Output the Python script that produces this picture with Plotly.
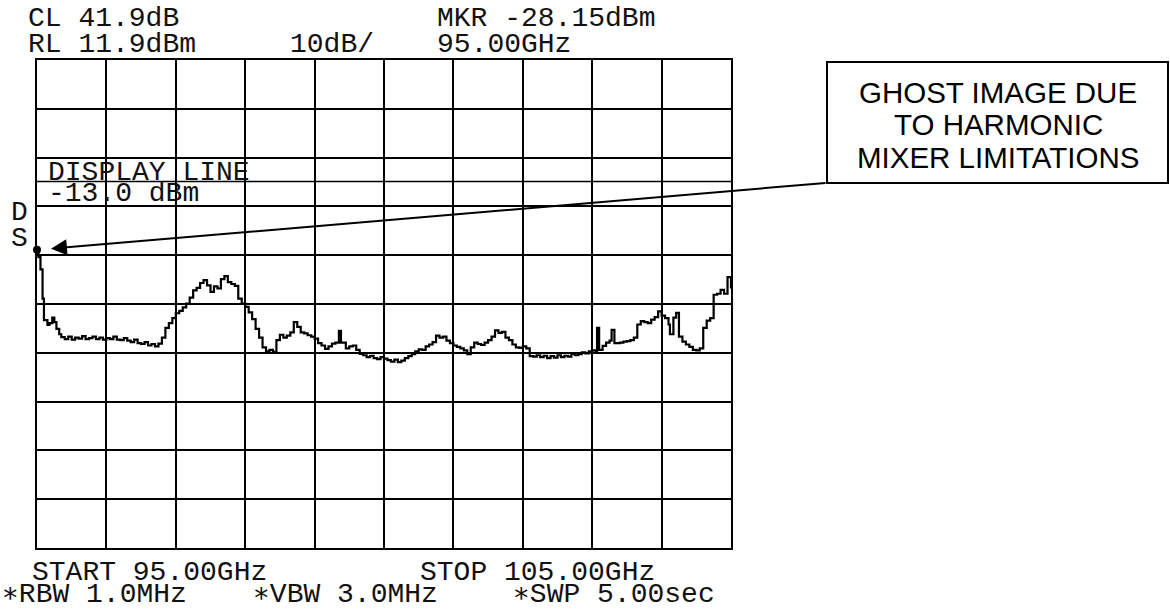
import plotly.graph_objects as go

# ---------------- data ----------------
freq_ghz = [
    95.00, 95.02, 95.05, 95.08, 95.10, 95.15, 95.18, 95.22, 95.25, 95.28, 95.32, 95.35,
    95.40, 95.45, 95.50, 95.55, 95.60, 95.65, 95.70, 95.75, 95.80, 95.85, 95.90, 95.95,
    96.00, 96.05, 96.10, 96.15, 96.20, 96.25, 96.30, 96.35, 96.40, 96.45, 96.50, 96.55,
    96.60, 96.65, 96.70, 96.75, 96.80, 96.85, 96.90, 96.95, 97.00, 97.05, 97.10, 97.15,
    97.20, 97.25, 97.30, 97.35, 97.40, 97.45, 97.50, 97.55, 97.60, 97.65, 97.70, 97.75,
    97.80, 97.85, 97.90, 97.95, 98.00, 98.05, 98.10, 98.15, 98.20, 98.25, 98.30, 98.35,
    98.40, 98.45, 98.50, 98.55, 98.60, 98.65, 98.70, 98.75, 98.80, 98.85, 98.90, 98.95,
    99.00, 99.05, 99.10, 99.15, 99.20, 99.25, 99.30, 99.35, 99.38, 99.45, 99.50, 99.55,
    99.60, 99.65, 99.70, 99.75, 99.80, 99.85, 99.90, 99.95, 100.00, 100.05, 100.10, 100.15,
    100.20, 100.25, 100.30, 100.35, 100.40, 100.45, 100.50, 100.55, 100.60, 100.65, 100.70, 100.75,
    100.80, 100.85, 100.90, 100.95, 101.00, 101.05, 101.10, 101.15, 101.20, 101.25, 101.30, 101.35,
    101.40, 101.45, 101.50, 101.55, 101.60, 101.65, 101.70, 101.75, 101.80, 101.85, 101.90, 101.95,
    102.00, 102.05, 102.10, 102.15, 102.20, 102.25, 102.30, 102.35, 102.40, 102.45, 102.50, 102.55,
    102.60, 102.65, 102.70, 102.75, 102.80, 102.85, 102.90, 102.95, 103.00, 103.05, 103.07, 103.10,
    103.15, 103.20, 103.25, 103.28, 103.32, 103.40, 103.45, 103.50, 103.55, 103.60, 103.65, 103.70,
    103.75, 103.80, 103.85, 103.90, 103.95, 104.00, 104.05, 104.10, 104.12, 104.17, 104.21, 104.25,
    104.30, 104.35, 104.40, 104.45, 104.50, 104.55, 104.60, 104.65, 104.70, 104.75, 104.80, 104.85,
    104.90, 104.95, 105.00,
]
level_dbm = [
    -27.0, -28.5, -31.0, -37.0, -41.4, -42.4, -42.0, -40.9, -41.8, -43.2, -44.3, -44.9,
    -45.3, -44.8, -45.4, -45.0, -45.2, -44.7, -45.3, -45.1, -44.8, -45.3, -45.0, -45.4,
    -45.1, -45.3, -44.8, -45.4, -45.5, -45.1, -45.6, -45.9, -45.4, -46.1, -46.3, -45.9,
    -46.6, -46.3, -46.8, -46.2, -45.0, -43.0, -42.0, -41.0, -40.0, -39.5, -38.8, -38.0,
    -36.8, -35.3, -34.8, -33.8, -33.2, -34.3, -35.6, -34.5, -34.9, -33.0, -32.4, -33.6,
    -34.0, -34.4, -37.0, -38.0, -38.7, -39.8, -41.2, -43.2, -45.0, -47.0, -47.8, -47.5,
    -47.9, -45.5, -44.4, -45.0, -44.6, -43.9, -41.8, -42.8, -43.9, -44.1, -44.5, -44.8,
    -45.2, -46.1, -46.6, -47.3, -46.8, -46.2, -46.0, -43.6, -46.0, -47.2, -46.8, -46.6,
    -47.5, -48.3, -48.6, -49.0, -48.7, -49.2, -49.4, -49.0, -49.3, -49.6, -49.9, -49.5,
    -50.0, -49.7, -49.2, -48.8, -48.4, -47.8, -47.4, -47.5, -46.8, -46.4, -45.9, -44.6,
    -45.0, -44.8, -45.6, -46.1, -46.6, -46.9, -47.2, -47.6, -48.4, -47.0, -46.0, -46.3,
    -46.5, -46.0, -45.5, -44.8, -43.5, -44.0, -43.8, -45.0, -45.5, -46.4, -47.0, -47.1,
    -46.8, -47.2, -48.8, -48.9, -48.6, -49.0, -48.7, -49.2, -48.8, -49.1, -48.6, -49.0,
    -48.7, -48.9, -48.3, -48.6, -48.4, -48.0, -48.2, -47.8, -47.6, -47.9, -43.0, -47.5,
    -46.7, -46.0, -45.6, -43.4, -46.1, -46.0, -45.8, -45.7, -45.5, -45.0, -42.3, -41.6,
    -41.8, -42.0, -41.3, -40.8, -39.6, -40.5, -41.0, -42.3, -44.3, -40.9, -39.9, -44.8,
    -45.8, -46.4, -46.9, -47.5, -47.6, -47.2, -43.0, -41.5, -41.0, -36.2, -36.0, -35.2,
    -36.0, -32.6, -34.9,
]

start_ghz = 95.0
stop_ghz = 105.0
ref_level_dbm = 11.9
db_per_div = 10
n_div = 10
display_line_dbm = -13.0
marker_ghz = 95.00
marker_dbm = -27.0

header_texts = ["CL 41.9dB", "RL 11.9dBm", "10dB/", "MKR -28.15dBm", "95.00GHz"]
display_texts = ["DISPLAY LINE", "-13.0 dBm"]
side_texts = ["D", "S"]
footer_texts = ["START 95.00GHz", "STOP 105.00GHz", "∗RBW 1.0MHz", "∗VBW 3.0MHz", "∗SWP 5.00sec"]
callout_lines = ["GHOST IMAGE DUE", "TO HARMONIC", "MIXER LIMITATIONS"]

# ---------------- layout helpers ----------------
W, H = 1170, 612


def px(x):
    return x / W


def py(y):
    return 1 - y / H


MONO = "Liberation Mono, DejaVu Sans Mono, monospace"
SANS = "Liberation Sans, Arial, sans-serif"

fig = go.Figure()
fig.add_trace(go.Scatter(
    x=freq_ghz, y=level_dbm, mode="lines",
    line=dict(color="black", width=2.2, shape="hv"),
    hoverinfo="skip", showlegend=False,
))
fig.add_trace(go.Scatter(
    x=[marker_ghz], y=[marker_dbm], mode="markers",
    marker=dict(color="black", size=8, symbol="circle"),
    cliponaxis=False, showlegend=False,
))

# display line
fig.add_shape(type="line", xref="x", yref="y",
              x0=start_ghz, x1=stop_ghz, y0=display_line_dbm, y1=display_line_dbm,
              line=dict(color="black", width=1.5))

annotations = []


def mono(text, x, y, anchor="left"):
    annotations.append(dict(
        text=text, x=px(x), y=py(y), xref="paper", yref="paper",
        xanchor=anchor, yanchor="middle", showarrow=False,
        font=dict(family=MONO, size=28, color="#111"),
    ))


header_pos = [(26, 18), (26, 45), (288, 45), (435, 18), (435, 45)]
for t, (x, y) in zip(header_texts, header_pos):
    mono(t, x, y)
for t, (x, y) in zip(display_texts, [(46, 172), (46, 193)]):
    mono(t, x, y)
for t, (x, y) in zip(side_texts, [(9, 212), (9, 239)]):
    mono(t, x, y)
footer_pos = [(30, 572), (418, 572), (0, 594), (251, 594), (511, 594)]
for t, (x, y) in zip(footer_texts, footer_pos):
    mono(t, x, y)

# callout box and text
fig.add_shape(type="rect", xref="paper", yref="paper",
              x0=px(827), x1=px(1168), y0=py(183), y1=py(62),
              line=dict(color="black", width=2), fillcolor="white")
for t, y in zip(callout_lines, [92, 125, 157]):
    annotations.append(dict(
        text=t, x=px(998), y=py(y), xref="paper", yref="paper",
        xanchor="center", yanchor="middle", showarrow=False,
        font=dict(family=SANS, size=29.5, color="black"),
    ))

# arrow from callout corner to the marker
annotations.append(dict(
    text="", x=marker_ghz, y=marker_dbm, xref="x", yref="y",
    ax=790, ay=-67, showarrow=True,
    arrowhead=2, arrowsize=1.6, arrowwidth=2, arrowcolor="black",
    standoff=14,
))

axis_common = dict(
    showgrid=True, gridcolor="black", gridwidth=2,
    showticklabels=False, ticks="", zeroline=False,
    showline=True, mirror=True, linecolor="black", linewidth=2,
    fixedrange=True,
)

fig.update_layout(
    width=W, height=H,
    margin=dict(l=0, r=0, t=0, b=0),
    paper_bgcolor="white", plot_bgcolor="white",
    showlegend=False,
    xaxis=dict(range=[start_ghz, stop_ghz], tick0=start_ghz, dtick=(stop_ghz - start_ghz) / n_div,
               domain=[px(37), px(731)], **axis_common),
    yaxis=dict(range=[ref_level_dbm - db_per_div * n_div, ref_level_dbm], tick0=ref_level_dbm,
               dtick=db_per_div, domain=[py(548), py(60)], **axis_common),
    annotations=annotations,
)

fig.write_html(
    "out.html",
    config={"displayModeBar": False},
    post_script="document.body.style.margin='0';document.body.style.overflow='hidden';",
)
